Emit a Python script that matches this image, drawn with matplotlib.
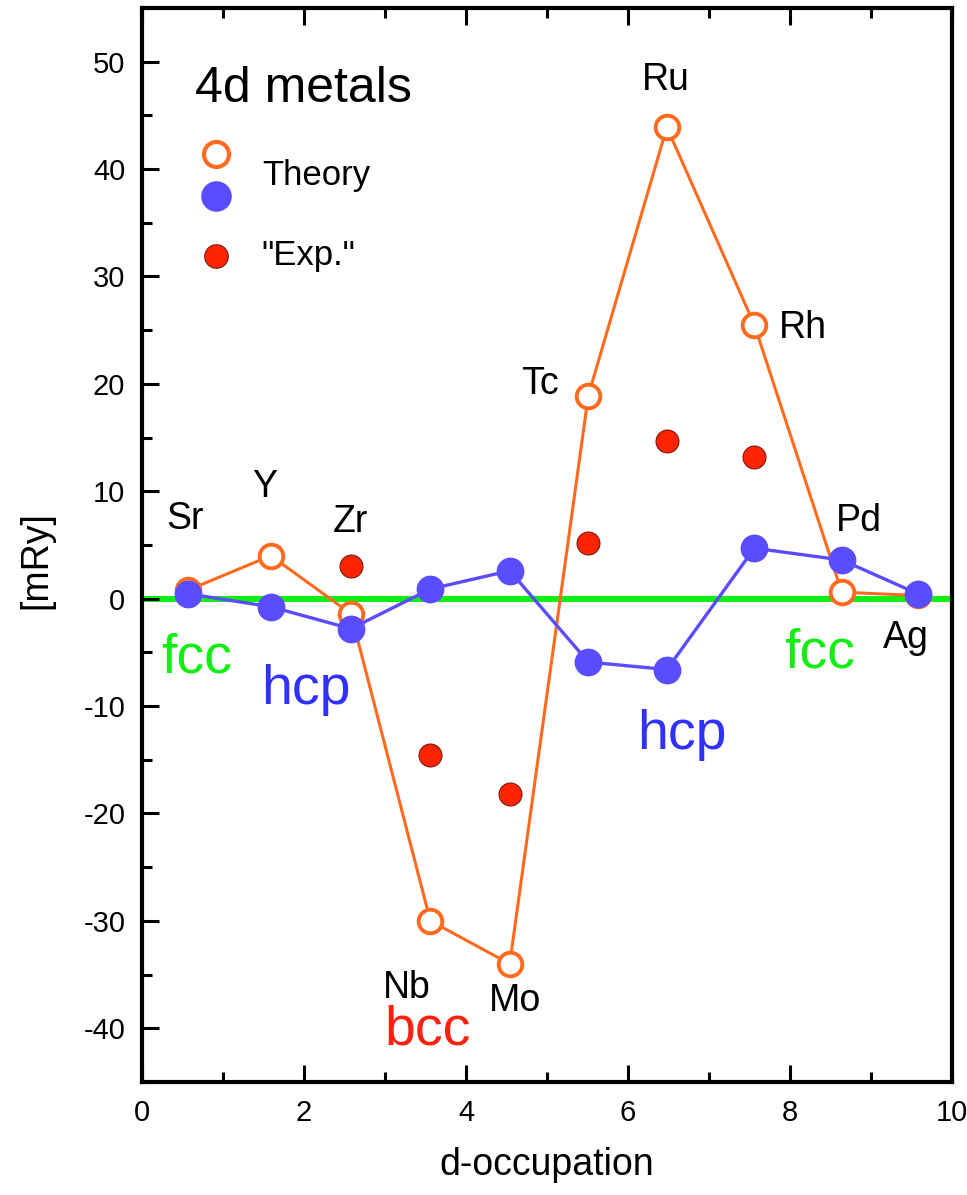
import matplotlib
matplotlib.use("Agg")
import matplotlib.pyplot as plt
from matplotlib.ticker import MultipleLocator

plt.rcParams['font.family'] = ['Liberation Sans', 'DejaVu Sans']
plt.rcParams['axes.unicode_minus'] = False

# d-band occupation of the 4d series
elements = ['Sr', 'Y', 'Zr', 'Nb', 'Mo', 'Tc', 'Ru', 'Rh', 'Pd', 'Ag']
d_occ = [0.57, 1.59, 2.58, 3.56, 4.54, 5.51, 6.48, 7.56, 8.64, 9.58]

# structural energy differences [mRy]
theory_bcc = [0.8, 4.0, -1.4, -30.0, -34.0, 18.9, 43.9, 25.5, 0.6, 0.3]
theory_hcp = [0.45, -0.75, -2.8, 0.9, 2.6, -5.9, -6.6, 4.7, 3.6, 0.45]

exp_elements = ['Zr', 'Nb', 'Mo', 'Tc', 'Ru', 'Rh']
exp_values = [3.0, -14.6, -18.2, 5.2, 14.7, 13.2]

# element label anchors (x, baseline y) in data units
label_pos = {
    'Sr': (0.53, 6.5), 'Y': (1.52, 9.5), 'Zr': (2.57, 6.2),
    'Nb': (3.27, -37.2), 'Mo': (4.60, -38.4), 'Tc': (4.91, 19.1),
    'Ru': (6.47, 47.4), 'Rh': (8.16, 24.25), 'Pd': (8.85, 6.3),
    'Ag': (9.43, -4.6),
}

ORANGE = '#ff6a1f'
BLUE = '#5a4cff'
RED = '#ff2400'
GREEN = '#11ee11'

fig = plt.figure(figsize=(9.67, 11.95), dpi=100)
ax = fig.add_axes([0.1468, 0.0946, 0.8377, 0.8987])

ax.axhline(0, color=GREEN, lw=4.3, zorder=1)

ax.plot(d_occ, theory_bcc, '-', color=ORANGE, lw=2.2, zorder=2)
ax.plot(d_occ, theory_bcc, 'o', ms=17, mfc='white', mec=ORANGE, mew=2.8,
        zorder=3, linestyle='none')
ax.plot(d_occ, theory_hcp, '-', color=BLUE, lw=2.4, zorder=4)
ax.plot(d_occ, theory_hcp, 'o', ms=20, color=BLUE, mew=0, zorder=5,
        linestyle='none')

exp_x = [d_occ[elements.index(e)] for e in exp_elements]
ax.plot(exp_x, exp_values, 'o', ms=16.5, mfc=RED, mec='#7a1a10', mew=0.8,
        zorder=6, linestyle='none')

for el in elements:
    x, y = label_pos[el]
    ax.text(x, y, el, fontsize=27, ha='center', va='baseline', zorder=7)

# structure annotations
ax.text(0.68, -6.9, 'fcc', color=GREEN, fontsize=40, ha='center', va='baseline')
ax.text(8.37, -6.4, 'fcc', color=GREEN, fontsize=40, ha='center', va='baseline')
ax.text(2.02, -9.8, 'hcp', color='#3030ff', fontsize=40, ha='center', va='baseline')
ax.text(6.67, -14.0, 'hcp', color='#3030ff', fontsize=40, ha='center', va='baseline')
ax.text(3.52, -41.5, 'bcc', color='#ff2010', fontsize=40, ha='center', va='baseline')

# key
ax.text(0.0654, 0.9125, '4d metals', transform=ax.transAxes, fontsize=36,
        ha='left', va='baseline')
ax.plot([0.0914], [0.864], 'o', transform=ax.transAxes, ms=18, mfc='white',
        mec=ORANGE, mew=3.0, clip_on=False)
ax.plot([0.0914], [0.825], 'o', transform=ax.transAxes, ms=22, color=BLUE,
        mew=0, clip_on=False)
ax.plot([0.0914], [0.769], 'o', transform=ax.transAxes, ms=17, mfc=RED,
        mec='#7a1a10', mew=0.8, clip_on=False)
ax.text(0.149, 0.835, 'Theory', transform=ax.transAxes, fontsize=25,
        ha='left', va='baseline')
ax.text(0.148, 0.761, '"Exp."', transform=ax.transAxes, fontsize=25,
        ha='left', va='baseline')

ax.set_xlim(0, 10)
ax.set_ylim(-45, 55)
ax.xaxis.set_major_locator(MultipleLocator(2))
ax.xaxis.set_minor_locator(MultipleLocator(1))
ax.yaxis.set_major_locator(MultipleLocator(10))
ax.yaxis.set_minor_locator(MultipleLocator(5))

ax.tick_params(axis='both', which='both', direction='in', width=2.2,
               labelsize=21, pad=12, colors='black')
ax.tick_params(axis='both', which='major', length=12)
ax.tick_params(axis='both', which='minor', length=7)
ax.tick_params(axis='x', which='both', top=True, bottom=True)
ax.tick_params(axis='y', which='both', left=True, right=False)

for sp in ax.spines.values():
    sp.set_linewidth(3.0)
    sp.set_color('black')

fig.text(547 / 967, 1 - 1175 / 1195, 'd-occupation', fontsize=27,
         ha='center', va='baseline')
fig.text(36 / 967, 1 - 560 / 1195, '[mRy]', fontsize=27, rotation=90,
         ha='center', va='center')

fig.savefig('out.png', dpi=100)
